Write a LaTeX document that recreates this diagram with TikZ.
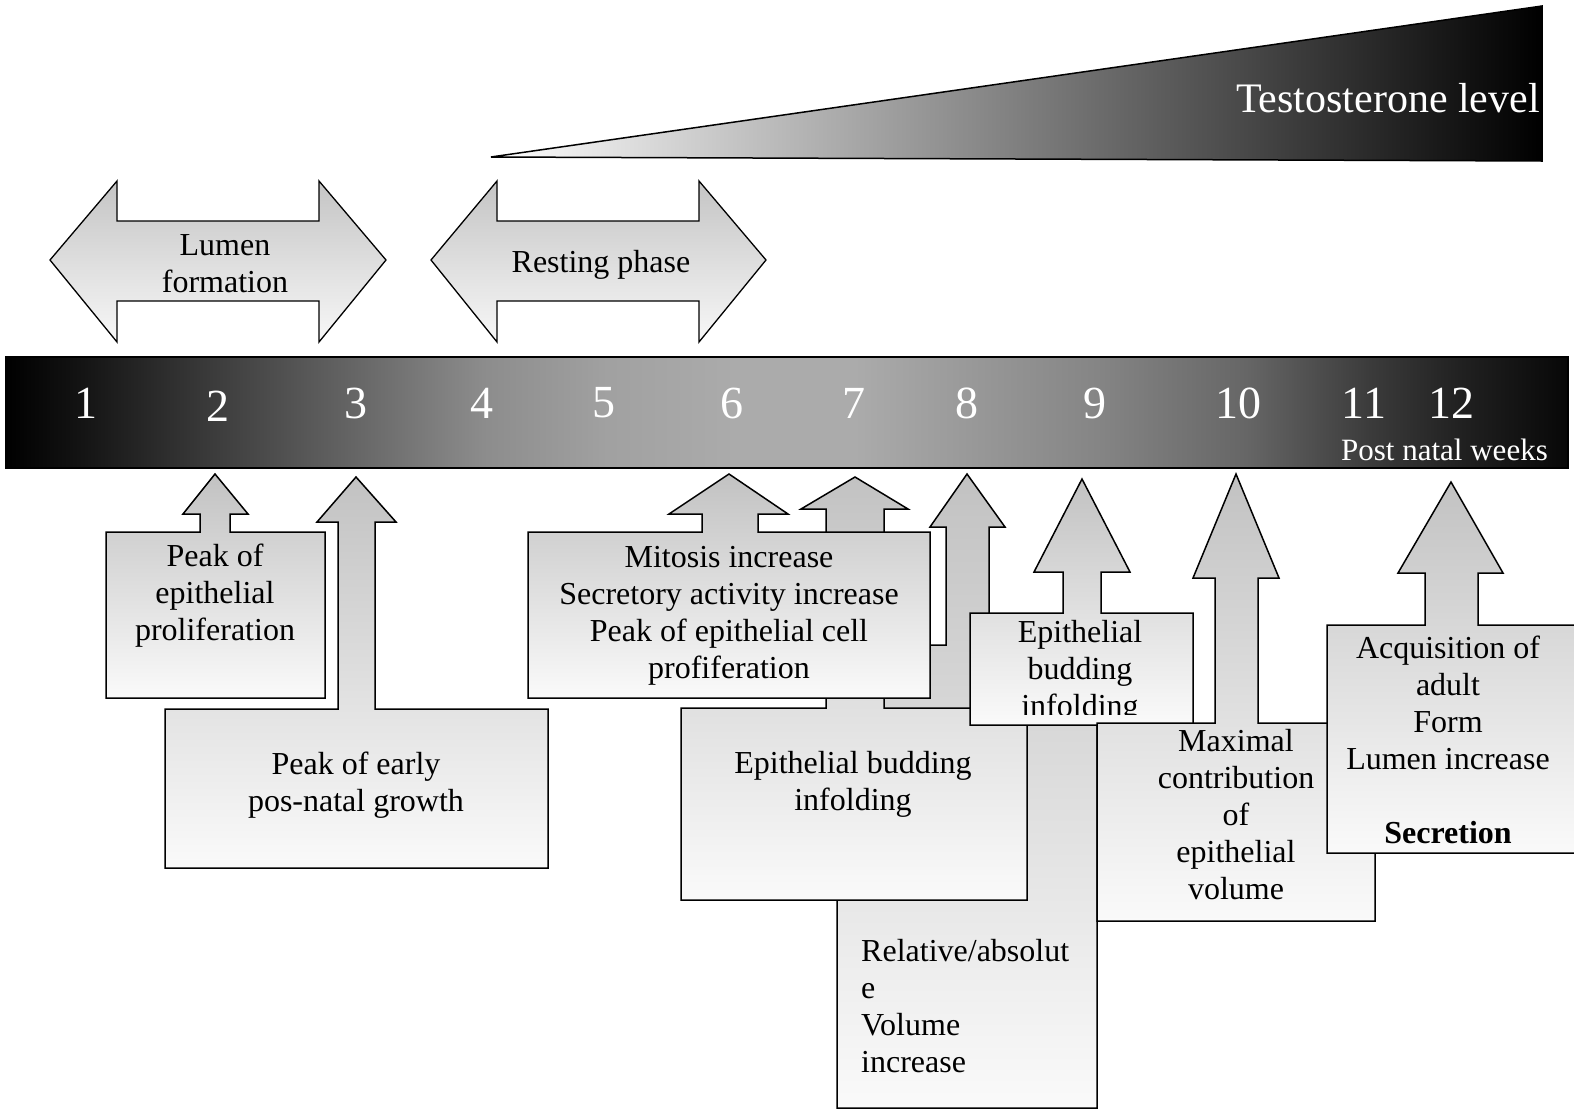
\documentclass[tikz,border=0pt]{standalone}
\usepackage{fontspec}
\setmainfont{Liberation Serif}
\pgfdeclarehorizontalshading{barshade}{100bp}{color(0bp)=(black); color(25bp)=(black); color(27.5bp)=(black!92); color(31.8bp)=(black!76); color(36.2bp)=(black!60); color(40.3bp)=(black!45); color(44.2bp)=(black!37); color(48.3bp)=(black!33); color(52.2bp)=(black!33); color(55.8bp)=(black!40); color(60bp)=(black!48); color(64.7bp)=(black!60); color(68.7bp)=(black!77); color(71.5bp)=(black!87); color(75bp)=(black!97); color(100bp)=(black!97)}
\begin{document}
\begin{tikzpicture}[x=1pt,y=-1pt,line join=miter]
\tikzset{
  callout/.style={draw=black, line width=1.5pt, top color=black!24, bottom color=black!2},
  dblarrow/.style={draw=black, line width=1.3pt, top color=black!23, bottom color=black!3},
  body/.style={font=\fontsize{32}{37}\selectfont, align=center, inner sep=0pt},
  num/.style={font=\fontsize{46}{50}\selectfont, text=white, inner sep=0pt},
}
\useasboundingbox (0,0) rectangle (1574,1114);

% testosterone wedge
\path[draw=black, line width=1.5pt, left color=white, right color=black]
  (491,157) -- (1542,6) -- (1542,161) -- cycle;
\node[font=\fontsize{42}{46}\selectfont, text=white, inner sep=0pt, anchor=base east] (testo) at (1540,112) {Testosterone level};

% double arrows
\path[dblarrow] (50,260) -- (117,181) -- (117,221) -- (319,221) -- (319,181) -- (386,260)
  -- (319,342) -- (319,301) -- (117,301) -- (117,342) -- cycle;
\node[body] (lumen) at (225,264) {Lumen\\formation};
\path[dblarrow] (431,260) -- (497,181) -- (497,221) -- (699,221) -- (699,181) -- (766,260)
  -- (699,342) -- (699,301) -- (497,301) -- (497,342) -- cycle;
\node[body] (rest) at (601,265) {Resting phase};

% timeline bar
\path[draw=black, line width=1.6pt, shade, shading=barshade] (6,357) rectangle (1568,468);
\node[num] (w1) at (86,403) {1};
\node[num] (w2) at (218,406) {2};
\node[num] (w3) at (356,403) {3};
\node[num] (w4) at (482,403) {4};
\node[num] (w5) at (604,403) {5};
\node[num] (w6) at (732,403) {6};
\node[num] (w7) at (854,403) {7};
\node[num] (w8) at (967,403) {8};
\node[num] (w9) at (1095,403) {9};
\node[num] (w10) at (1238,403) {10};
\node[num] (w11) at (1364,403) {11};
\node[num] (w12) at (1451,403) {12};
\node[font=\fontsize{31}{35}\selectfont, text=white, inner sep=0pt, anchor=base east] (pnw) at (1548,460) {Post natal weeks};

% callout E (relative/absolute volume)
\path[callout] (837,645) -- (946,645) -- (946,527) -- (930,527) -- (967,474) -- (1005,527)
  -- (989,527) -- (989,645) -- (1097,645) -- (1097,1108) -- (837,1108) -- cycle;
\node[body, align=left, anchor=west] (relvol) at (861,1006) {Relative/absolut\\e\\Volume\\increase};

% callout D (epithelial budding infolding, large)
\path[callout] (681,708) -- (826,708) -- (826,509) -- (801,509) -- (855,477) -- (908,509)
  -- (884,509) -- (884,708) -- (1027,708) -- (1027,900) -- (681,900) -- cycle;
\node[body] (budbig) at (853,784) {Epithelial budding\\infolding};

% callout C (mitosis)
\path[callout] (528,532) -- (702,532) -- (702,514) -- (669,514) -- (729,474) -- (788,514)
  -- (758,514) -- (758,532) -- (930,532) -- (930,698) -- (528,698) -- cycle;
\node[body] (mitosis) at (729,616) {Mitosis increase\\Secretory activity increase\\Peak of epithelial cell\\profiferation};

% callout A (peak of epithelial proliferation)
\path[callout] (106,532) -- (200,532) -- (200,514) -- (183,514) -- (215,474) -- (248,514)
  -- (230,514) -- (230,532) -- (325,532) -- (325,698) -- (106,698) -- cycle;
\node[body] (peakprol) at (215,596) {Peak of\\epithelial\\proliferation};

% callout B (peak of early pos-natal growth)
\path[callout] (165,709) -- (338,709) -- (338,522) -- (317,522) -- (356,477) -- (396,522)
  -- (375,522) -- (375,709) -- (548,709) -- (548,868) -- (165,868) -- cycle;
\node[body] (growth) at (356,785) {Peak of early\\pos-natal growth};

% callout F (epithelial budding infolding, small)
\path[callout] (970,613) -- (1063,613) -- (1063,572) -- (1034,572) -- (1082,479) -- (1130,572)
  -- (1101,572) -- (1101,613) -- (1193,613) -- (1193,725) -- (970,725) -- cycle;
\begin{scope}
  \clip (972,615) rectangle (1191,714);
  \node[body] (budsmall) at (1080,672) {Epithelial\\budding\\infolding};
\end{scope}

% callout G (maximal contribution)
\path[callout] (1097,723) -- (1215,723) -- (1215,578) -- (1193,578) -- (1236,474) -- (1279,578)
  -- (1258,578) -- (1258,723) -- (1375,723) -- (1375,921) -- (1097,921) -- cycle;
\node[body] (maximal) at (1236,815) {Maximal\\contribution\\of\\epithelial\\volume};

% callout H (acquisition of adult form)
\path[callout] (1327,625) -- (1425,625) -- (1425,573) -- (1398,573) -- (1451,482) -- (1503,573)
  -- (1478,573) -- (1478,625) -- (1590,625) -- (1590,853) -- (1327,853) -- cycle;
\node[body] (adult) at (1448,740) {Acquisition of\\adult\\Form\\Lumen increase\\[37pt]\textbf{Secretion}};
\end{tikzpicture}
\end{document}
